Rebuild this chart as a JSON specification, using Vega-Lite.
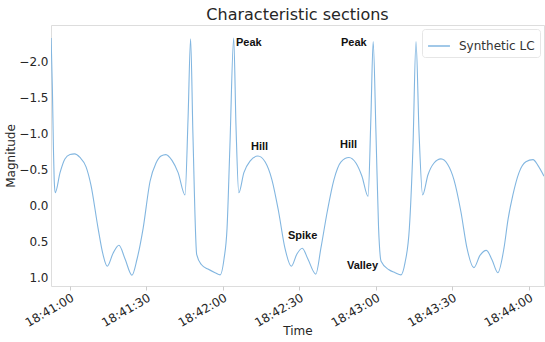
{
  "$schema": "https://vega.github.io/schema/vega-lite/v6.json",
  "width": 493,
  "height": 261,
  "autosize": {"type": "none"},
  "padding": {"left": 51, "top": 25, "right": 1, "bottom": 56},
  "background": "white",
  "title": {"text": "Characteristic sections", "font": "DejaVu Sans", "fontSize": 16, "fontWeight": "normal", "color": "#262626", "anchor": "middle", "offset": 2},
  "config": {
    "view": {"stroke": "#dddddd", "strokeWidth": 1},
    "axis": {"grid": false, "domain": false, "labelFont": "DejaVu Sans", "labelFontSize": 12, "labelColor": "#262626", "titleFont": "DejaVu Sans", "titleFontSize": 12, "titleFontWeight": "normal", "titleColor": "#262626"}
  },
  "layer": [
    {
      "data": {"values": [
        {"time": "2020-01-01T18:40:52.600", "magnitude": -2.32},
        {"time": "2020-01-01T18:40:53.100", "magnitude": -1.60},
        {"time": "2020-01-01T18:40:53.500", "magnitude": -0.80},
        {"time": "2020-01-01T18:40:53.800", "magnitude": -0.35},
        {"time": "2020-01-01T18:40:54.200", "magnitude": -0.17},
        {"time": "2020-01-01T18:40:56.100", "magnitude": -0.45},
        {"time": "2020-01-01T18:40:58.000", "magnitude": -0.64},
        {"time": "2020-01-01T18:41:00.000", "magnitude": -0.70},
        {"time": "2020-01-01T18:41:01.800", "magnitude": -0.71},
        {"time": "2020-01-01T18:41:03.900", "magnitude": -0.66},
        {"time": "2020-01-01T18:41:06.300", "magnitude": -0.53},
        {"time": "2020-01-01T18:41:08.200", "magnitude": -0.28},
        {"time": "2020-01-01T18:41:11.000", "magnitude": 0.32},
        {"time": "2020-01-01T18:41:12.900", "magnitude": 0.68},
        {"time": "2020-01-01T18:41:14.600", "magnitude": 0.85},
        {"time": "2020-01-01T18:41:16.900", "magnitude": 0.67},
        {"time": "2020-01-01T18:41:19.200", "magnitude": 0.56},
        {"time": "2020-01-01T18:41:21.600", "magnitude": 0.75},
        {"time": "2020-01-01T18:41:24.300", "magnitude": 0.975},
        {"time": "2020-01-01T18:41:26.300", "magnitude": 0.75},
        {"time": "2020-01-01T18:41:28.700", "magnitude": 0.32},
        {"time": "2020-01-01T18:41:31.400", "magnitude": -0.33},
        {"time": "2020-01-01T18:41:33.700", "magnitude": -0.58},
        {"time": "2020-01-01T18:41:35.700", "magnitude": -0.68},
        {"time": "2020-01-01T18:41:37.600", "magnitude": -0.70},
        {"time": "2020-01-01T18:41:40.000", "magnitude": -0.62},
        {"time": "2020-01-01T18:41:42.400", "magnitude": -0.45},
        {"time": "2020-01-01T18:41:45.100", "magnitude": -0.14},
        {"time": "2020-01-01T18:41:46.300", "magnitude": -1.20},
        {"time": "2020-01-01T18:41:47.300", "magnitude": -2.31},
        {"time": "2020-01-01T18:41:48.200", "magnitude": -1.00},
        {"time": "2020-01-01T18:41:49.700", "magnitude": 0.69},
        {"time": "2020-01-01T18:41:51.600", "magnitude": 0.83},
        {"time": "2020-01-01T18:41:54.100", "magnitude": 0.89},
        {"time": "2020-01-01T18:41:56.900", "magnitude": 0.94},
        {"time": "2020-01-01T18:41:58.900", "magnitude": 0.97},
        {"time": "2020-01-01T18:42:00.400", "magnitude": 0.75},
        {"time": "2020-01-01T18:42:01.600", "magnitude": 0.32},
        {"time": "2020-01-01T18:42:02.700", "magnitude": -0.80},
        {"time": "2020-01-01T18:42:04.200", "magnitude": -2.32},
        {"time": "2020-01-01T18:42:05.100", "magnitude": -1.10},
        {"time": "2020-01-01T18:42:06.200", "magnitude": -0.17},
        {"time": "2020-01-01T18:42:08.200", "magnitude": -0.45},
        {"time": "2020-01-01T18:42:10.600", "magnitude": -0.61},
        {"time": "2020-01-01T18:42:13.700", "magnitude": -0.68},
        {"time": "2020-01-01T18:42:16.500", "magnitude": -0.60},
        {"time": "2020-01-01T18:42:19.200", "magnitude": -0.35},
        {"time": "2020-01-01T18:42:21.800", "magnitude": 0.09},
        {"time": "2020-01-01T18:42:24.300", "magnitude": 0.60},
        {"time": "2020-01-01T18:42:26.800", "magnitude": 0.85},
        {"time": "2020-01-01T18:42:29.000", "magnitude": 0.68},
        {"time": "2020-01-01T18:42:31.100", "magnitude": 0.60},
        {"time": "2020-01-01T18:42:33.300", "magnitude": 0.75},
        {"time": "2020-01-01T18:42:36.400", "magnitude": 0.96},
        {"time": "2020-01-01T18:42:38.400", "magnitude": 0.60},
        {"time": "2020-01-01T18:42:40.900", "magnitude": 0.09},
        {"time": "2020-01-01T18:42:43.500", "magnitude": -0.35},
        {"time": "2020-01-01T18:42:46.300", "magnitude": -0.60},
        {"time": "2020-01-01T18:42:49.400", "magnitude": -0.66},
        {"time": "2020-01-01T18:42:52.200", "magnitude": -0.58},
        {"time": "2020-01-01T18:42:54.500", "magnitude": -0.40},
        {"time": "2020-01-01T18:42:56.900", "magnitude": -0.12},
        {"time": "2020-01-01T18:42:58.000", "magnitude": -1.20},
        {"time": "2020-01-01T18:42:58.900", "magnitude": -2.27},
        {"time": "2020-01-01T18:43:00.000", "magnitude": -1.00},
        {"time": "2020-01-01T18:43:01.000", "magnitude": 0.30},
        {"time": "2020-01-01T18:43:02.000", "magnitude": 0.78},
        {"time": "2020-01-01T18:43:05.100", "magnitude": 0.90},
        {"time": "2020-01-01T18:43:07.500", "magnitude": 0.94},
        {"time": "2020-01-01T18:43:09.800", "magnitude": 0.97},
        {"time": "2020-01-01T18:43:11.400", "magnitude": 0.80},
        {"time": "2020-01-01T18:43:13.100", "magnitude": 0.32},
        {"time": "2020-01-01T18:43:14.500", "magnitude": -0.80},
        {"time": "2020-01-01T18:43:15.700", "magnitude": -2.27},
        {"time": "2020-01-01T18:43:16.900", "magnitude": -1.00},
        {"time": "2020-01-01T18:43:18.300", "magnitude": -0.14},
        {"time": "2020-01-01T18:43:20.400", "magnitude": -0.42},
        {"time": "2020-01-01T18:43:22.700", "magnitude": -0.58},
        {"time": "2020-01-01T18:43:25.500", "magnitude": -0.64},
        {"time": "2020-01-01T18:43:28.200", "magnitude": -0.56},
        {"time": "2020-01-01T18:43:30.600", "magnitude": -0.35},
        {"time": "2020-01-01T18:43:33.300", "magnitude": 0.09},
        {"time": "2020-01-01T18:43:35.700", "magnitude": 0.60},
        {"time": "2020-01-01T18:43:38.400", "magnitude": 0.87},
        {"time": "2020-01-01T18:43:40.800", "magnitude": 0.70},
        {"time": "2020-01-01T18:43:43.300", "magnitude": 0.63},
        {"time": "2020-01-01T18:43:45.500", "magnitude": 0.76},
        {"time": "2020-01-01T18:43:47.800", "magnitude": 0.94},
        {"time": "2020-01-01T18:43:50.200", "magnitude": 0.60},
        {"time": "2020-01-01T18:43:51.800", "magnitude": 0.20},
        {"time": "2020-01-01T18:43:53.700", "magnitude": -0.14},
        {"time": "2020-01-01T18:43:56.100", "magnitude": -0.45},
        {"time": "2020-01-01T18:43:58.800", "magnitude": -0.60},
        {"time": "2020-01-01T18:44:01.600", "magnitude": -0.63},
        {"time": "2020-01-01T18:44:03.500", "magnitude": -0.55},
        {"time": "2020-01-01T18:44:05.900", "magnitude": -0.40}
      ]},
      "mark": {"type": "line", "interpolate": "monotone", "strokeWidth": 1.1, "clip": true},
      "encoding": {
        "x": {"field": "time", "type": "temporal", "title": "Time",
          "scale": {"domain": [
            {"year": 2020, "month": 1, "date": 1, "hours": 18, "minutes": 40, "seconds": 52, "milliseconds": 550},
            {"year": 2020, "month": 1, "date": 1, "hours": 18, "minutes": 44, "seconds": 5, "milliseconds": 900}
          ], "nice": false},
          "axis": {"format": "%H:%M:%S",
            "values": [
              {"year": 2020, "month": 1, "date": 1, "hours": 18, "minutes": 41, "seconds": 0},
              {"year": 2020, "month": 1, "date": 1, "hours": 18, "minutes": 41, "seconds": 30},
              {"year": 2020, "month": 1, "date": 1, "hours": 18, "minutes": 42, "seconds": 0},
              {"year": 2020, "month": 1, "date": 1, "hours": 18, "minutes": 42, "seconds": 30},
              {"year": 2020, "month": 1, "date": 1, "hours": 18, "minutes": 43, "seconds": 0},
              {"year": 2020, "month": 1, "date": 1, "hours": 18, "minutes": 43, "seconds": 30},
              {"year": 2020, "month": 1, "date": 1, "hours": 18, "minutes": 44, "seconds": 0}
            ],
            "labelAngle": -30, "labelAlign": "right", "labelBaseline": "top", "ticks": true, "tickSize": 4, "tickColor": "#cccccc", "labelPadding": 2, "titlePadding": -3, "labelFlush": false, "labelOverlap": false}},
        "y": {"field": "magnitude", "type": "quantitative", "title": "Magnitude",
          "scale": {"domain": [-2.5, 1.125], "reverse": true, "nice": false, "zero": false},
          "axis": {"values": [-2, -1.5, -1, -0.5, 0, 0.5, 1], "format": ".1f", "ticks": false, "labelPadding": 3, "titlePadding": 1}},
        "color": {"datum": "Synthetic LC", "type": "nominal",
          "scale": {"range": ["#82b6e0"]},
          "legend": {"title": null, "orient": "top-right", "offset": 4, "symbolType": "stroke", "symbolSize": 480, "symbolStrokeWidth": 1.5, "labelFont": "DejaVu Sans", "labelFontSize": 12, "labelColor": "#333333", "labelOffset": 8, "padding": 5, "strokeColor": "#e6e6e6", "fillColor": "white", "cornerRadius": 3}}
      }
    },
    {
      "data": {"values": [
        {"time": "2020-01-01T18:42:05.100", "magnitude": -2.25, "label": "Peak"},
        {"time": "2020-01-01T18:42:46.300", "magnitude": -2.25, "label": "Peak"},
        {"time": "2020-01-01T18:42:11.000", "magnitude": -0.81, "label": "Hill"},
        {"time": "2020-01-01T18:42:45.900", "magnitude": -0.83, "label": "Hill"},
        {"time": "2020-01-01T18:42:25.500", "magnitude": 0.43, "label": "Spike"},
        {"time": "2020-01-01T18:42:48.600", "magnitude": 0.85, "label": "Valley"}
      ]},
      "mark": {"type": "text", "font": "Liberation Sans", "fontWeight": "bold", "fontSize": 11, "align": "left", "baseline": "middle", "color": "#111111"},
      "encoding": {
        "x": {"field": "time", "type": "temporal"},
        "y": {"field": "magnitude", "type": "quantitative"},
        "text": {"field": "label"}
      }
    }
  ]
}
